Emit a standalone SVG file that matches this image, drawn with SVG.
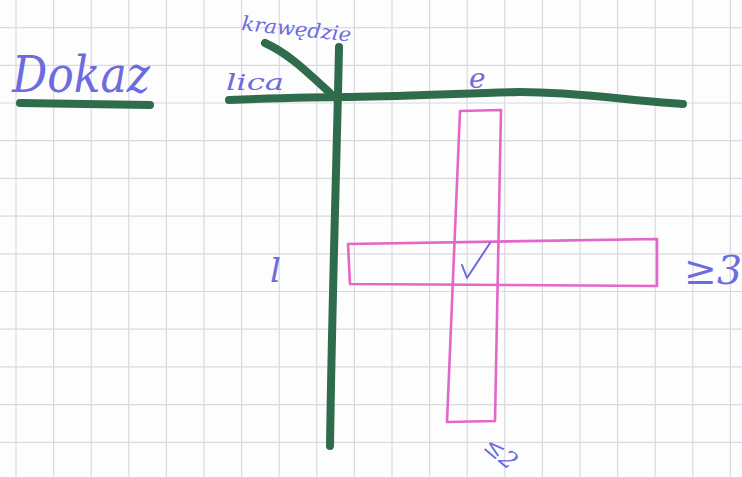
<svg xmlns="http://www.w3.org/2000/svg" width="742" height="477" viewBox="0 0 742 477">
<defs>
<style>
.grid line{stroke:#d9d9e2;stroke-width:1.2}
.ink{fill:#6c6ce0;font-family:"DejaVu Serif","Liberation Serif",serif;font-style:italic}
.green{fill:none;stroke:#2f6c4b;stroke-width:8;stroke-linecap:round;stroke-linejoin:round}
.pink{fill:none;stroke:#e466c8;stroke-width:2.6;stroke-linejoin:round}
</style>
</defs>
<rect width="742" height="477" fill="#fdfdfd"/>
<g class="grid" id="grid">
<line x1="16" y1="0" x2="16" y2="477"/><line x1="53.6" y1="0" x2="53.6" y2="477"/><line x1="91.2" y1="0" x2="91.2" y2="477"/><line x1="128.8" y1="0" x2="128.8" y2="477"/><line x1="166.4" y1="0" x2="166.4" y2="477"/><line x1="204" y1="0" x2="204" y2="477"/><line x1="241.6" y1="0" x2="241.6" y2="477"/><line x1="279.2" y1="0" x2="279.2" y2="477"/><line x1="316.8" y1="0" x2="316.8" y2="477"/><line x1="354.4" y1="0" x2="354.4" y2="477"/><line x1="392" y1="0" x2="392" y2="477"/><line x1="429.6" y1="0" x2="429.6" y2="477"/><line x1="467.2" y1="0" x2="467.2" y2="477"/><line x1="504.8" y1="0" x2="504.8" y2="477"/><line x1="542.4" y1="0" x2="542.4" y2="477"/><line x1="580" y1="0" x2="580" y2="477"/><line x1="617.6" y1="0" x2="617.6" y2="477"/><line x1="655.2" y1="0" x2="655.2" y2="477"/><line x1="692.8" y1="0" x2="692.8" y2="477"/><line x1="730.4" y1="0" x2="730.4" y2="477"/>
<line x1="0" y1="27.6" x2="742" y2="27.6"/><line x1="0" y1="65.3" x2="742" y2="65.3"/><line x1="0" y1="103" x2="742" y2="103"/><line x1="0" y1="140.7" x2="742" y2="140.7"/><line x1="0" y1="178.4" x2="742" y2="178.4"/><line x1="0" y1="216.1" x2="742" y2="216.1"/><line x1="0" y1="253.8" x2="742" y2="253.8"/><line x1="0" y1="291.5" x2="742" y2="291.5"/><line x1="0" y1="329.2" x2="742" y2="329.2"/><line x1="0" y1="366.9" x2="742" y2="366.9"/><line x1="0" y1="404.6" x2="742" y2="404.6"/><line x1="0" y1="442.3" x2="742" y2="442.3"/>
</g>
<g id="title">
<text class="ink" x="12" y="92" font-size="50" font-style="normal" font-family="'Liberation Serif',serif" textLength="138" lengthAdjust="spacingAndGlyphs">Dokaz</text>
<path class="green" d="M20 103 L150 105"/>
</g>
<g id="axes">
<path class="green" d="M229 100 C280 98 320 97 350 97 C420 96 470 93 520 92 C580 92 620 100 683 104"/>
<path class="green" d="M339 47 C337 150 332 300 330 446"/>
<path class="green" d="M265 43 C285 52 300 65 330 93"/>
</g>
<g id="labels">
<text class="ink" x="241" y="30" font-size="20" textLength="110" lengthAdjust="spacingAndGlyphs" transform="rotate(6 241 30)">krawędzie</text>
<text class="ink" x="226" y="90" font-size="22" textLength="58" lengthAdjust="spacingAndGlyphs">lica</text>
<text class="ink" x="469" y="88" font-size="28">e</text>
<text class="ink" x="270" y="282" font-size="34">l</text>
<text class="ink" x="684" y="284" font-size="40" font-style="normal" font-family="'Liberation Sans',sans-serif" textLength="58" lengthAdjust="spacingAndGlyphs">≥3</text>
<text class="ink" x="482" y="448" font-size="24" font-style="normal" font-family="'Liberation Sans',sans-serif" transform="rotate(40 482 448)">≤2</text>
</g>
<g id="bars">
<path class="pink" d="M460 111 L501 110 L495 421 L447 422 Z"/>
<path class="pink" d="M348 244 L657 239 L657 286 L350 284 Z"/>
<path d="M462 265 L467 278 L490 243" fill="none" stroke="#6c6ce0" stroke-width="2" stroke-linecap="round" stroke-linejoin="round"/>
</g>
</svg>
